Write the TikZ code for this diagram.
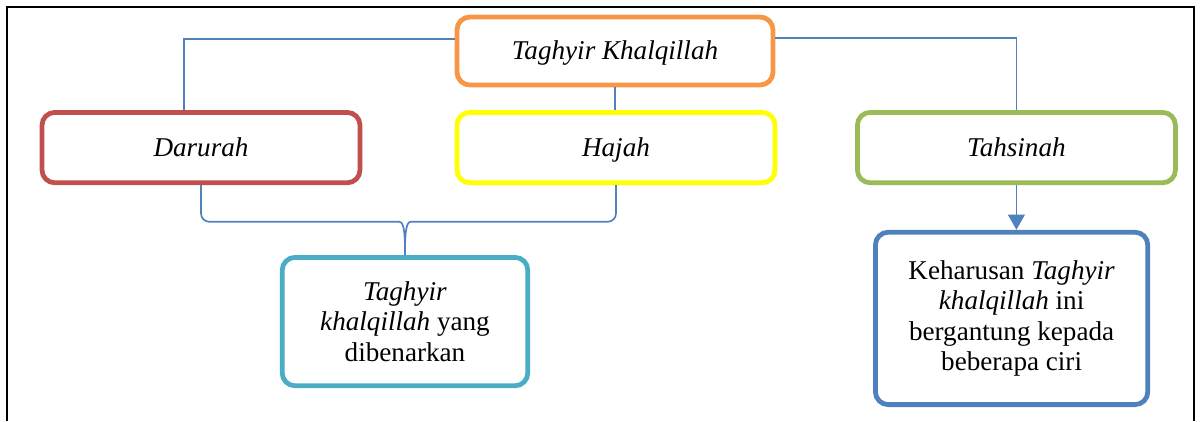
\documentclass[tikz,border=0pt]{standalone}
\usepackage{fontspec}
\setmainfont{Liberation Serif}
\usetikzlibrary{positioning,calc,arrows.meta}

\definecolor{kOrange}{HTML}{F79646}
\definecolor{kRed}{HTML}{C0504D}
\definecolor{kYellow}{HTML}{FFFF00}
\definecolor{kGreen}{HTML}{9BBB59}
\definecolor{kTeal}{HTML}{4BACC6}
\definecolor{kBlue}{HTML}{4F81BD}

\tikzset{
    box/.style={draw, line width=3.4pt, rounded corners=0.32cm, fill=white,
        align=center, font=\fontsize{19.3}{21.7}\selectfont},
    kind/.style={box, minimum width=7.95cm, minimum height=1.76cm,
        text height=1.45em, text depth=0.25em},
    link/.style={draw=kBlue, line width=1.2pt}
}

\begin{document}
\begin{tikzpicture}
    \useasboundingbox (0,0) rectangle (30.025,-10.525);

    % outer frame, open at the bottom
    \draw[line width=1.8pt] (0.18,-10.525) -- (0.18,-0.18) -- (29.85,-0.18) -- (29.85,-10.525);

    % top node
    \node[kind, draw=kOrange, minimum width=7.9cm, minimum height=1.7cm]
        (khal) at (15.375,-1.275) {\textit{Taghyir Khalqillah}};

    % three kinds
    \node[kind, draw=kRed] (daru) at (5.025,-3.69) {\textit{Darurah}};
    \node[kind, draw=kYellow] (hajah) at (15.4,-3.69) {\textit{Hajah}};
    \node[kind, draw=kGreen] (tahs) at (25.41,-3.69) {\textit{Tahsinah}};

    % results
    \node[box, draw=kTeal, minimum width=6.14cm, minimum height=3.21cm]
        (benar) at (10.125,-8.04) {\textit{Taghyir}\\\textit{khalqillah} yang\\dibenarkan};
    \node[box, draw=kBlue, minimum width=6.81cm, minimum height=4.31cm]
        (ciri) at (25.29,-7.96) {Keharusan \textit{Taghyir}\\\textit{khalqillah} ini\\bergantung kepada\\beberapa ciri};

    % connectors
    \draw[link] ([yshift=0.3cm]khal.west) -| ([xshift=-0.42cm]daru.north);
    \draw[link] ([yshift=0.32cm]khal.east) -| (tahs.north);
    \draw[link] (khal.south) -- (khal.south |- hajah.north);

    % brace into the teal node
    \draw[link, rounded corners=6pt] (daru.south) |- ($(benar.north)+(-0.35,0.83)$)
        to[out=0,in=90] (benar.north);
    \draw[link, rounded corners=6pt] (hajah.south) |- ($(benar.north)+(0.35,0.83)$)
        to[out=180,in=90] (benar.north);

    % arrow into the blue node
    \draw[link, -{Triangle[width=0.42cm,length=0.38cm]}] (tahs.south) -- (tahs.south |- ciri.north);
\end{tikzpicture}
\end{document}
